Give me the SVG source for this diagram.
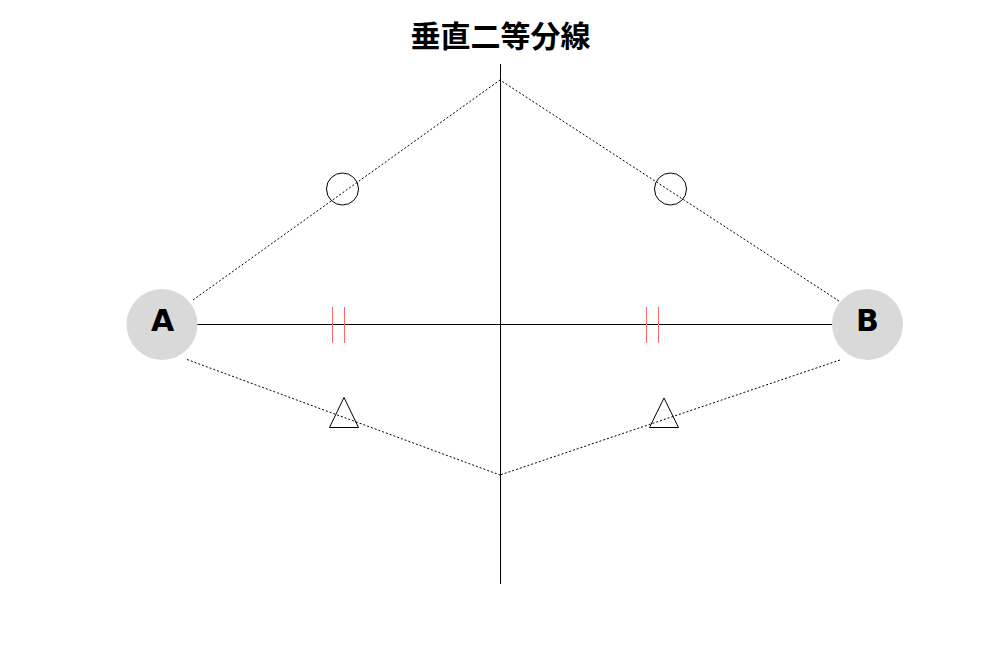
<svg xmlns="http://www.w3.org/2000/svg" width="999" height="649" viewBox="0 0 999 649">
<style>
.solid{stroke:#000;stroke-width:1;fill:none}
.dot{stroke:#000;stroke-width:1;stroke-dasharray:2 2;fill:none}
.tick{stroke:#ff6666;stroke-width:1;fill:none}
.mark{stroke:#000;stroke-width:1;fill:none}
.node{fill:#d9d9d9}
.lbl{font-family:"DejaVu Sans",sans-serif;font-weight:bold;font-size:30px;fill:#000}
.title{font-family:"Noto Sans CJK JP","Noto Sans CJK SC",sans-serif;font-weight:bold;font-size:30px;fill:#000}
</style>
<rect width="999" height="649" fill="#fff"/>
<text class="title" x="500.5" y="47" text-anchor="middle">垂直二等分線</text>
<g id="connectors">
<line class="solid" x1="500.5" y1="64" x2="500.5" y2="584"/>
<line class="solid" x1="197" y1="324.5" x2="832" y2="324.5"/>
<line class="dot" x1="193" y1="300" x2="500" y2="80"/>
<line class="dot" x1="839" y1="301" x2="500" y2="80"/>
<line class="dot" x1="187" y1="359.5" x2="500" y2="475"/>
<line class="dot" x1="840" y1="360" x2="500" y2="475"/>
</g>
<g id="marks">
<line class="tick" x1="332.5" y1="307" x2="332.5" y2="343"/>
<line class="tick" x1="344.5" y1="307" x2="344.5" y2="343"/>
<line class="tick" x1="646.5" y1="307" x2="646.5" y2="343"/>
<line class="tick" x1="658.5" y1="307" x2="658.5" y2="343"/>
<circle class="mark" cx="342.5" cy="189" r="16"/>
<circle class="mark" cx="670.5" cy="189" r="16"/>
<polygon class="mark" points="344,397.5 329.5,427.5 358.5,427.5"/>
<polygon class="mark" points="664,398 649.5,427.5 678.5,427.5"/>
</g>
<g id="nodeA">
<circle class="node" cx="162" cy="324.5" r="35.5"/>
<text class="lbl" x="162.5" y="331" text-anchor="middle">A</text>
</g>
<g id="nodeB">
<circle class="node" cx="867.5" cy="324.5" r="35.5"/>
<text class="lbl" x="867.5" y="331" text-anchor="middle">B</text>
</g>
</svg>
